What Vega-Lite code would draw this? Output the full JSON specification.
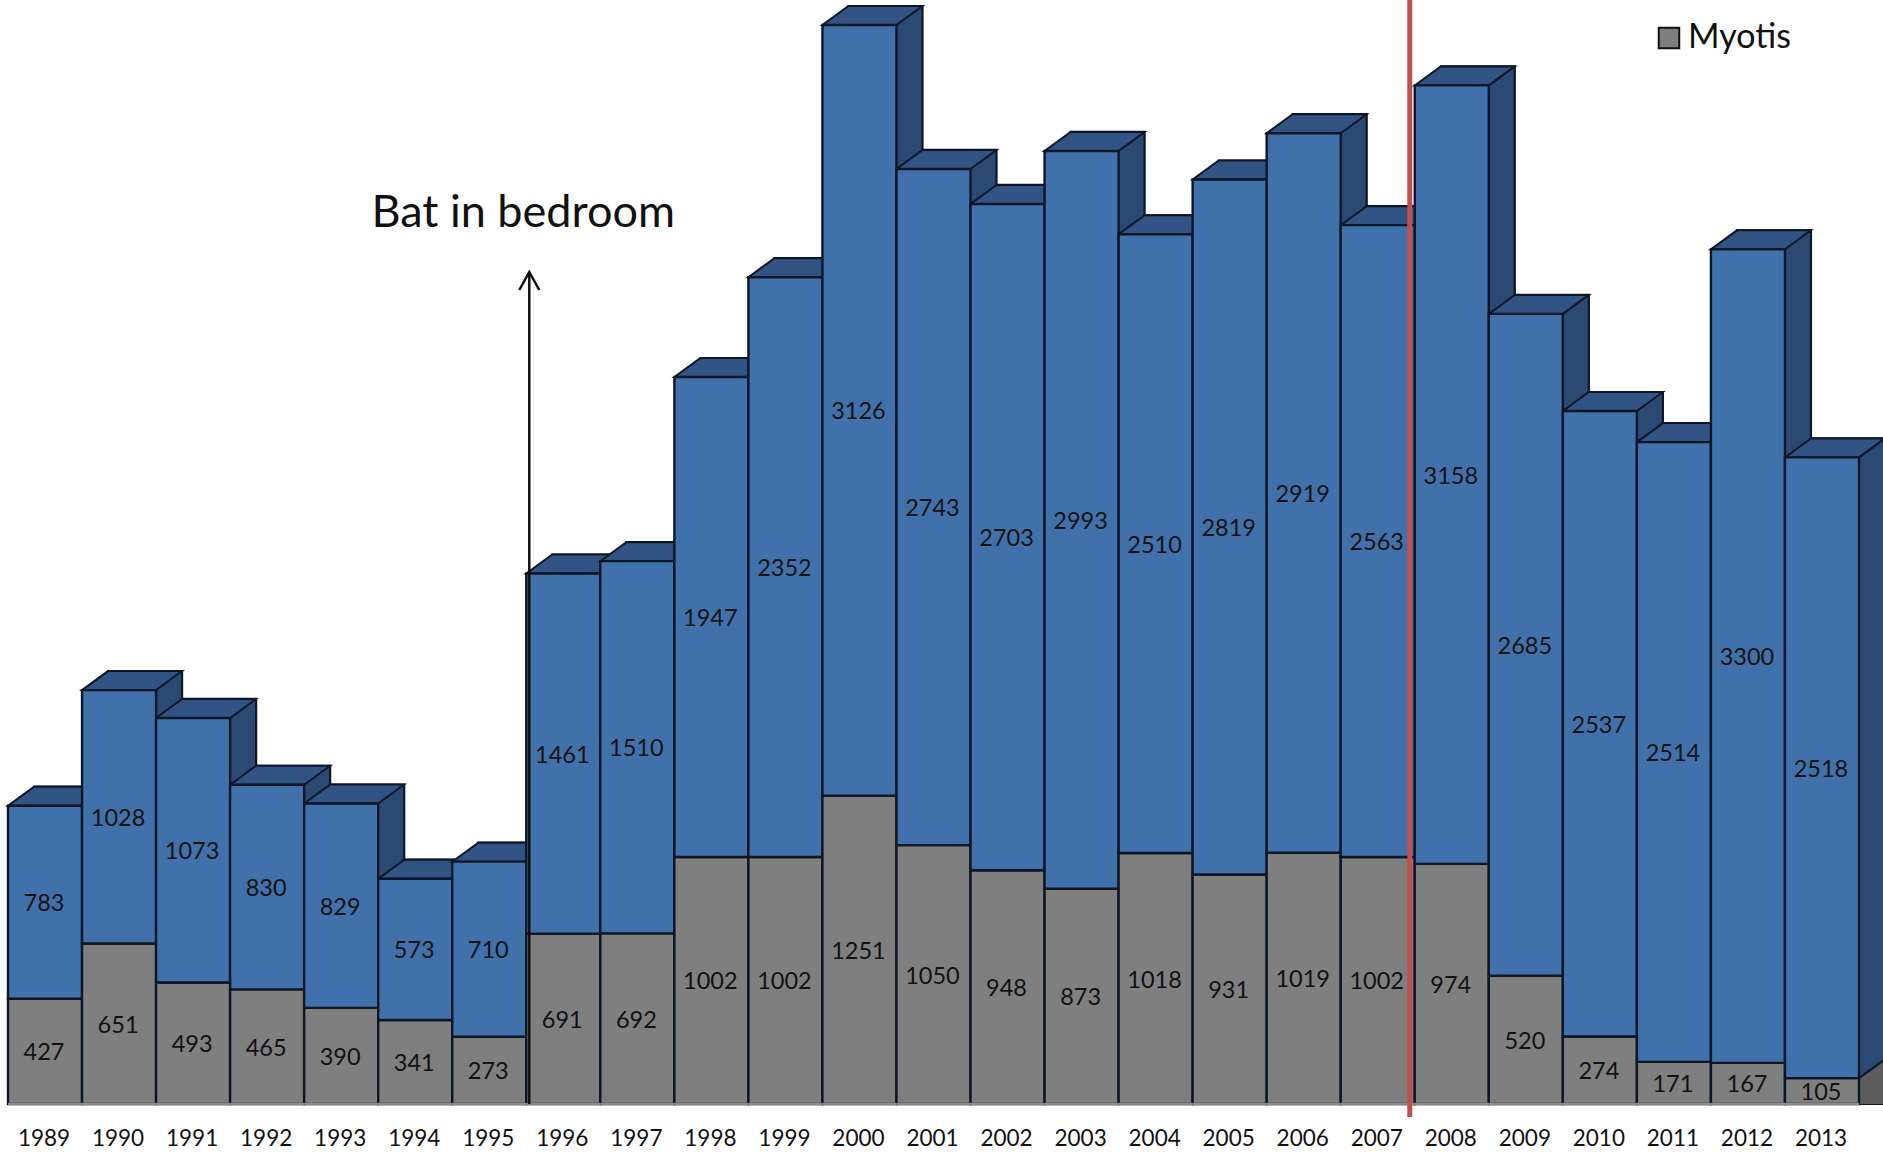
{"$schema":"https://vega.github.io/schema/vega-lite/v6.json","width":1851,"height":1079,"autosize":{"type":"none"},"padding":{"left":8,"top":25,"right":24,"bottom":48},"background":"white","data":{"values":[{"year":"1989","group":"Myotis","value":427},{"year":"1989","group":"Other bats","value":783},{"year":"1990","group":"Myotis","value":651},{"year":"1990","group":"Other bats","value":1028},{"year":"1991","group":"Myotis","value":493},{"year":"1991","group":"Other bats","value":1073},{"year":"1992","group":"Myotis","value":465},{"year":"1992","group":"Other bats","value":830},{"year":"1993","group":"Myotis","value":390},{"year":"1993","group":"Other bats","value":829},{"year":"1994","group":"Myotis","value":341},{"year":"1994","group":"Other bats","value":573},{"year":"1995","group":"Myotis","value":273},{"year":"1995","group":"Other bats","value":710},{"year":"1996","group":"Myotis","value":691},{"year":"1996","group":"Other bats","value":1461},{"year":"1997","group":"Myotis","value":692},{"year":"1997","group":"Other bats","value":1510},{"year":"1998","group":"Myotis","value":1002},{"year":"1998","group":"Other bats","value":1947},{"year":"1999","group":"Myotis","value":1002},{"year":"1999","group":"Other bats","value":2352},{"year":"2000","group":"Myotis","value":1251},{"year":"2000","group":"Other bats","value":3126},{"year":"2001","group":"Myotis","value":1050},{"year":"2001","group":"Other bats","value":2743},{"year":"2002","group":"Myotis","value":948},{"year":"2002","group":"Other bats","value":2703},{"year":"2003","group":"Myotis","value":873},{"year":"2003","group":"Other bats","value":2993},{"year":"2004","group":"Myotis","value":1018},{"year":"2004","group":"Other bats","value":2510},{"year":"2005","group":"Myotis","value":931},{"year":"2005","group":"Other bats","value":2819},{"year":"2006","group":"Myotis","value":1019},{"year":"2006","group":"Other bats","value":2919},{"year":"2007","group":"Myotis","value":1002},{"year":"2007","group":"Other bats","value":2563},{"year":"2008","group":"Myotis","value":974},{"year":"2008","group":"Other bats","value":3158},{"year":"2009","group":"Myotis","value":520},{"year":"2009","group":"Other bats","value":2685},{"year":"2010","group":"Myotis","value":274},{"year":"2010","group":"Other bats","value":2537},{"year":"2011","group":"Myotis","value":171},{"year":"2011","group":"Other bats","value":2514},{"year":"2012","group":"Myotis","value":167},{"year":"2012","group":"Other bats","value":3300},{"year":"2013","group":"Myotis","value":105},{"year":"2013","group":"Other bats","value":2518}]},"transform":[{"stack":"value","groupby":["year"],"sort":[{"field":"group","order":"ascending"}],"as":["y0","y1"]}],"encoding":{"x":{"field":"year","type":"nominal","sort":null,"scale":{"paddingInner":0,"paddingOuter":0},"axis":{"title":null,"labelAngle":0,"ticks":false,"domain":false,"grid":false,"labelFont":"Lato","labelFontSize":22.5,"labelColor":"#111111","labelPadding":23,"labelOffset":-1}}},"layer":[{"transform":[{"filter":"datum.group === 'Other bats'"}],"mark":{"type":"bar","xOffset":26,"yOffset":-19,"fill":"#2b4a73","stroke":"#0d1626","strokeWidth":2.2},"encoding":{"y":{"field":"y1","type":"quantitative","scale":{"domain":[0,4377],"nice":false,"zero":true},"axis":null},"y2":{"datum":0}}},{"transform":[{"filter":"datum.group === 'Myotis'"}],"mark":{"type":"bar","xOffset":26,"yOffset":-19,"fill":"#5c5c5c","strokeWidth":0},"encoding":{"y":{"field":"y1","type":"quantitative"},"y2":{"datum":0}}},{"transform":[{"filter":"datum.group === 'Myotis'"}],"mark":{"type":"point","filled":true,"size":4,"shape":"M37 0 L63 -19 L37 -19 Z","fill":"#5c5c5c","strokeWidth":0,"opacity":1},"encoding":{"y":{"datum":0,"type":"quantitative"}}},{"transform":[{"filter":"datum.group === 'Myotis'"}],"mark":{"type":"point","filled":true,"size":4,"shape":"M37 0 L63 -19 L37 -19 Z","fill":"#2b4a73","strokeWidth":0,"opacity":1},"encoding":{"y":{"field":"y1","type":"quantitative"}}},{"transform":[{"filter":"datum.group === 'Myotis'"}],"mark":{"type":"point","filled":false,"size":4,"shape":"M37 0 L63 -19","stroke":"#0d1626","strokeWidth":2.2,"opacity":1},"encoding":{"y":{"field":"y1","type":"quantitative"}}},{"transform":[{"filter":"datum.group === 'Other bats'"}],"mark":{"type":"point","filled":true,"size":4,"shape":"M-37 0 L37 0 L63 -19 L-11 -19 Z","fill":"#315484","stroke":"#0d1626","strokeWidth":2,"opacity":1},"encoding":{"y":{"field":"y1","type":"quantitative"}}},{"mark":{"type":"bar","stroke":"#0d1626","strokeWidth":2.4},"encoding":{"y":{"field":"y1","type":"quantitative"},"y2":{"field":"y0"},"color":{"field":"group","type":"nominal","scale":{"domain":["Myotis","Other bats"],"range":["#7f7f7f","#4071aa"]},"legend":{"values":["Myotis"],"title":null,"orient":"none","legendX":1644,"legendY":-4,"symbolType":"square","symbolSize":420,"symbolStrokeColor":"#111111","symbolStrokeWidth":2,"labelFont":"Lato","labelFontSize":34,"labelColor":"#111111","labelOffset":2}}}},{"transform":[{"filter":"datum.group === 'Myotis'"}],"mark":{"type":"point","filled":false,"size":4,"shape":"M-37 0 L37 0","stroke":"#8a8a8a","strokeWidth":2.6,"opacity":1},"encoding":{"y":{"datum":0,"type":"quantitative"}}},{"mark":{"type":"text","font":"Lato","fontSize":23.5,"color":"#111111","xOffset":-1,"yOffset":2},"encoding":{"y":{"field":"value","type":"quantitative","stack":"zero","bandPosition":0.5},"detail":{"field":"group"},"order":{"field":"group","sort":"ascending"},"text":{"field":"value","type":"quantitative","format":"d"}}},{"data":{"values":[{"year":"2008","start":4480,"end":-53}]},"transform":[],"mark":{"type":"rule","color":"#c0504d","strokeWidth":5,"xOffset":-5},"encoding":{"x":{"field":"year","type":"nominal","bandPosition":0},"y":{"field":"start","type":"quantitative"},"y2":{"field":"end"}}},{"data":{"values":[{"year":"1996","start":3375,"end":0}]},"transform":[],"mark":{"type":"rule","color":"#111111","strokeWidth":2.5,"xOffset":3},"encoding":{"x":{"field":"year","type":"nominal","bandPosition":0},"y":{"field":"start","type":"quantitative"},"y2":{"field":"end"}}},{"data":{"values":[{"year":"1996","start":3375}]},"transform":[],"mark":{"type":"point","filled":false,"shape":"M-10 18 L0 0 L10 18","size":4,"stroke":"#111111","strokeWidth":2.5,"opacity":1,"xOffset":3},"encoding":{"x":{"field":"year","type":"nominal","bandPosition":0},"y":{"field":"start","type":"quantitative"}}},{"data":{"values":[{"year":"1994","start":3615,"label":"Bat in bedroom"}]},"transform":[],"mark":{"type":"text","font":"Lato","fontSize":45,"color":"#111111","align":"center","baseline":"middle","xOffset":108},"encoding":{"x":{"field":"year","type":"nominal"},"y":{"field":"start","type":"quantitative"},"text":{"field":"label"}}}],"resolve":{"scale":{"y":"shared","x":"shared"}},"config":{"view":{"stroke":null}}}
